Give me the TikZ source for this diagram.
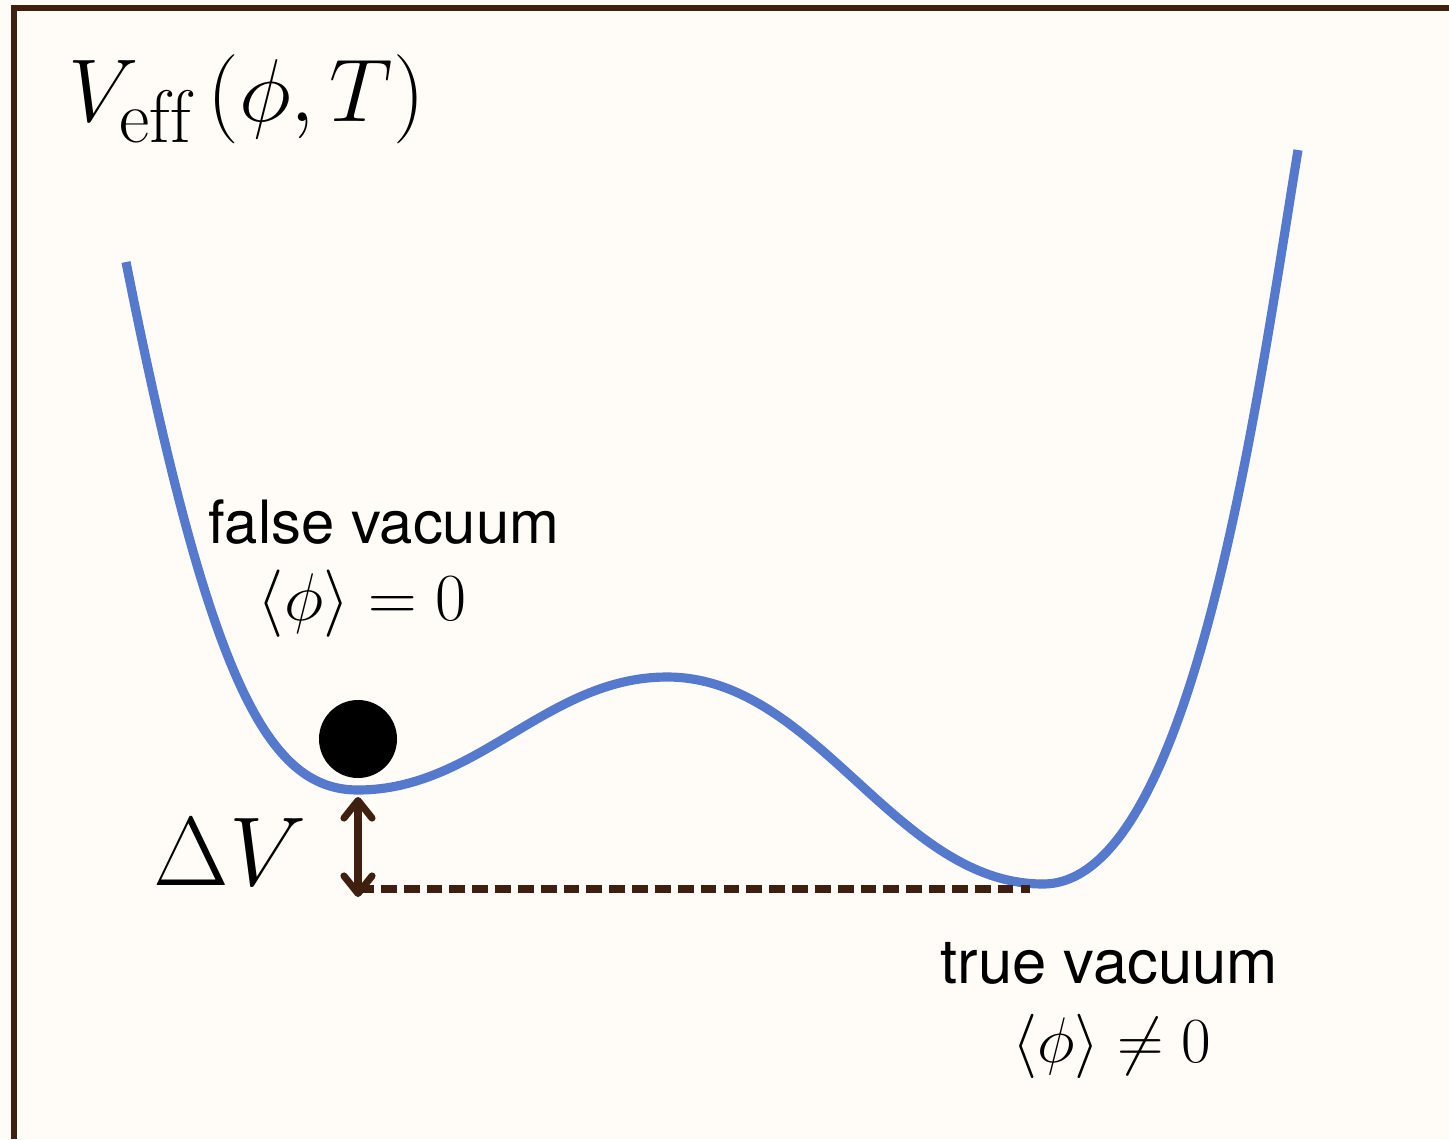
\documentclass[tikz,border=0pt]{standalone}
\usepackage{graphicx}
\usepackage{fontspec}
\setsansfont{TeX Gyre Heros}
\usetikzlibrary{arrows.meta}
\definecolor{hintergrund}{HTML}{FFFCF7}
\definecolor{rahmen}{HTML}{3F1F0F}
\definecolor{kurve}{HTML}{5579CD}
\begin{document}
\begin{tikzpicture}[>={Straight Barb[round,length=5pt,width=8pt]}]
\useasboundingbox (0,0) rectangle (14.49,11.39);
% Hintergrund und Rahmen (nur oben und links)
\fill[hintergrund] (0,0) rectangle (14.49,11.39);
\draw[rahmen,line width=1.7pt] (0.14,0) -- (0.14,11.31) -- (14.49,11.31);
% Extrema des Potentials
\coordinate (S)  at (1.26,8.77);   % linkes Ende
\coordinate (FV) at (3.58,3.49);   % falsches Vakuum
\coordinate (M)  at (6.67,4.62);   % Barriere
\coordinate (TV) at (10.43,2.55);  % wahres Vakuum
\coordinate (E)  at (12.98,9.89);  % rechtes Ende
% Effektives Potential
\draw[kurve,line width=2.6pt]
  (S) .. controls (2.10,4.55) and (2.68,3.49) .. (FV)
      .. controls (4.78,3.49) and (5.47,4.62) .. (M)
      .. controls (8.17,4.62) and (8.95,2.55) .. (TV)
      .. controls (11.93,2.55) and (12.57,7.39) .. (E);
% Kugel im falschen Vakuum
\node[circle,fill=black,minimum size=0.78cm,inner sep=0pt] (ball) at (3.58,4.00) {};
% Energiedifferenz Delta V
\coordinate (DO) at (3.58,3.42);
\coordinate (DU) at (3.58,2.42);
\coordinate (DL) at (3.58,2.50);
\coordinate (DR) at (10.30,2.50);
\draw[rahmen,line width=2pt,dash pattern=on 4.5pt off 2pt] (DL) -- (DR);
\draw[rahmen,line width=2pt,line cap=round,<->] (DO) -- (DU);
% Beschriftungen
\node[anchor=base west,inner sep=0pt] (titel) at (0.68,10.18)
  {\scalebox{1.02}{\fontsize{24.88}{30}\selectfont $V_{\mathrm{eff}}\,(\phi,T)$}};
\node[anchor=base,inner sep=0pt] (fvtext) at (3.84,5.96)
  {\sffamily\fontsize{17}{20}\selectfont false vacuum};
\node[anchor=base,inner sep=0pt] (fvwert) at (3.62,5.19)
  {\scalebox{1.11}{\fontsize{17.28}{21}\selectfont $\langle\phi\rangle=0$}};
\node[anchor=base,inner sep=0pt] (tvtext) at (11.09,1.56)
  {\sffamily\fontsize{17.5}{20}\selectfont true vacuum};
\node[anchor=base,inner sep=0pt] (tvwert) at (11.12,0.77)
  {\scalebox{1.06}{\fontsize{17.28}{21}\selectfont $\langle\phi\rangle\neq0$}};
\node[anchor=base,inner sep=0pt] (dvtext) at (2.30,2.54)
  {\scalebox{1.12}{\fontsize{29.86}{36}\selectfont $\Delta V$}};
\end{tikzpicture}
\end{document}
